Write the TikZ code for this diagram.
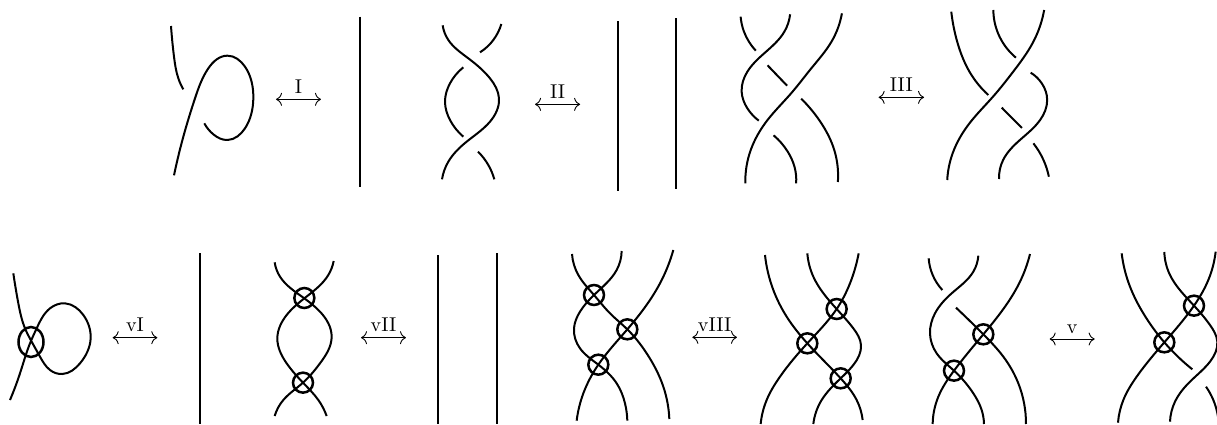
\documentclass[tikz,border=0pt]{standalone}
\usetikzlibrary{shapes.geometric,arrows.meta,hobby}
\tikzset{
  strandline/.style={line width=1pt,line join=round},
  ring/.style={draw,circle,line width=1.25pt,inner sep=0pt,minimum size=10pt},
  ringwide/.style={draw,ellipse,line width=1.25pt,inner sep=0pt,minimum width=12.5pt,minimum height=15pt},
  rel/.style={line width=0.45pt,{Computer Modern Rightarrow[length=3pt,width=6.5pt]}-{Computer Modern Rightarrow[length=3pt,width=6.5pt]}},
  rellabel/.style={midway,above,inner sep=0pt,yshift=2.6pt},
  zoomed/.style={scale=0.33333}
}
\newcommand{\strand}[1]{\draw[strandline] plot[hobby] coordinates {#1};}
\begin{document}
\begin{tikzpicture}[x=0.5pt,y=-0.5pt]
\useasboundingbox (0,0) rectangle (1217,424);
% top row, panels 1 and 2
\begin{scope}[shift={(150,0)},zoomed]
\strand{(63,78)(72,170)(85,235)(100,268)}
\strand{(72,526)(100,410)(135,295)(175,205)(232,167)(285,200)(310,295)(285,385)(232,420)(190,403)(163,370)}
\draw[strandline] (631,50) -- (631,560);
\strand{(878,76)(895,120)(955,175)(1020,235)(1047,295)(1020,365)(950,425)(895,485)(876,538)}
\strand{(1054,72)(1030,120)(990,157)}
\strand{(940,202)(900,250)(885,305)(900,360)(940,410)}
\strand{(984,455)(1015,495)(1033,538)}
\coordinate (a1l) at (378,298);
\coordinate (a1r) at (513,298);
\draw[rel] (a1l) -- node[rellabel] (t1) {I} (a1r);
\end{scope}
% panels 3-5
\begin{scope}[shift={(532,0)},xscale=0.3365,yscale=0.33333]
\draw[strandline] (256,63) -- (256,574);
\draw[strandline] (428,55) -- (428,566);
\strand{(620,50)(630,95)(665,152)}
\strand{(767,43)(750,95)(690,160)(640,215)(623,275)(640,325)(674,362)}
\strand{(921,40)(890,125)(830,205)(770,280)(700,360)(650,450)(634,550)}
\draw[strandline] (700,196) -- (758,257);
\strand{(800,296)(860,370)(895,440)(909,546)}
\strand{(718,406)(760,455)(780,500)(785,550)}
\strand{(1246,35)(1265,130)(1300,215)(1356,285)}
\strand{(1371,30)(1385,100)(1438,173)}
\strand{(1522,30)(1490,125)(1430,215)(1370,290)(1300,370)(1250,460)(1234,540)}
\strand{(1482,218)(1515,250)(1531,300)(1510,360)(1450,420)(1400,480)(1388,537)}
\draw[strandline] (1396,323) -- (1456,384);
\strand{(1490,430)(1520,480)(1536,530)}
\coordinate (a2l) at (9,313);
\coordinate (a2r) at (143,313);
\draw[rel] (a2l) -- node[rellabel] (t2) {II} (a2r);
\coordinate (a3l) at (1030,292);
\coordinate (a3r) at (1165,292);
\draw[rel] (a3l) -- node[rellabel] (t3) {III} (a3r);
\end{scope}
% bottom row, panels 6-7
\begin{scope}[shift={(0,240)},zoomed]
\strand{(40,100)(55,190)(75,265)(95,305)(120,350)(150,390)(187,402)(240,370)(272,295)(250,225)(195,190)(150,205)(110,265)(90,310)(60,400)(30,480)}
\node[ringwide] (r1) at (93,306) {};
\draw[strandline] (601,40) -- (601,552);
\strand{(824,67)(840,110)(913,175)(960,215)(995,290)(960,370)(909,428)(850,480)(824,528)}
\strand{(1001,63)(985,105)(913,175)(860,225)(832,295)(860,370)(909,428)(955,480)(980,528)}
\node[ring] (r2) at (913,174) {};
\node[ring] (r3) at (909,428) {};
\coordinate (a4l) at (338,293);
\coordinate (a4r) at (472,293);
\draw[rel] (a4l) -- node[rellabel] (t4) {vI} (a4r);
\coordinate (a5l) at (1083,293);
\coordinate (a5r) at (1218,293);
\draw[rel] (a5l) -- node[rellabel] (t5) {vII} (a5r);
\end{scope}
% panels 8-9
\begin{scope}[shift={(420,240)},zoomed]
\draw[strandline] (55,46) -- (55,552);
\draw[strandline] (232,40) -- (232,552);
\strand{(456,42)(475,105)(522,165)(570,220)(622,268)(680,340)(730,440)(748,537)}
\strand{(605,33)(590,90)(522,165)(480,215)(462,265)(480,325)(535,374)(590,430)(615,490)(622,542)}
\strand{(760,30)(720,130)(622,268)(535,374)(490,460)(470,542)}
\node[ring] (r4) at (522,165) {};
\node[ring] (r5) at (622,268) {};
\node[ring] (r6) at (535,374) {};
\strand{(1035,45)(1060,150)(1100,230)(1162,310)(1262,415)(1310,480)(1328,540)}
\strand{(1162,40)(1180,110)(1250,207)(1300,265)(1323,315)(1300,375)(1262,415)(1205,480)(1180,552)}
\strand{(1316,40)(1290,130)(1250,207)(1162,310)(1080,410)(1040,480)(1022,552)}
\node[ring] (r7) at (1250,207) {};
\node[ring] (r8) at (1162,310) {};
\node[ring] (r9) at (1262,415) {};
\coordinate (a6l) at (817,292);
\coordinate (a6r) at (951,292);
\draw[rel] (a6l) -- node[rellabel] (t6) {vIII} (a6r);
\end{scope}
% panels 10-11
\begin{scope}[shift={(880,240)},zoomed]
\strand{(146,55)(158,105)(187,150)}
\strand{(295,47)(280,95)(215,160)(165,220)(150,280)(170,340)(222,392)(280,460)(305,510)(312,552)}
\strand{(450,42)(420,125)(310,283)(222,392)(175,470)(158,552)}
\strand{(228,203)(310,283)(370,350)(415,430)(438,552)}
\node[ring] (r10) at (310,283) {};
\node[ring] (r11) at (222,392) {};
\strand{(725,40)(750,140)(790,220)(853,307)(937,388)}
\strand{(853,36)(870,105)(942,197)(990,255)(1012,305)(990,365)(930,425)(885,485)(870,545)}
\strand{(1007,35)(985,120)(942,197)(853,307)(770,410)(730,480)(714,548)}
\strand{(978,440)(1000,480)(1014,530)}
\node[ring] (r12) at (942,197) {};
\node[ring] (r13) at (853,307) {};
\coordinate (a7l) at (509,297);
\coordinate (a7r) at (644,297);
\draw[rel] (a7l) -- node[rellabel] (t7) {v} (a7r);
\end{scope}
\end{tikzpicture}
\end{document}
